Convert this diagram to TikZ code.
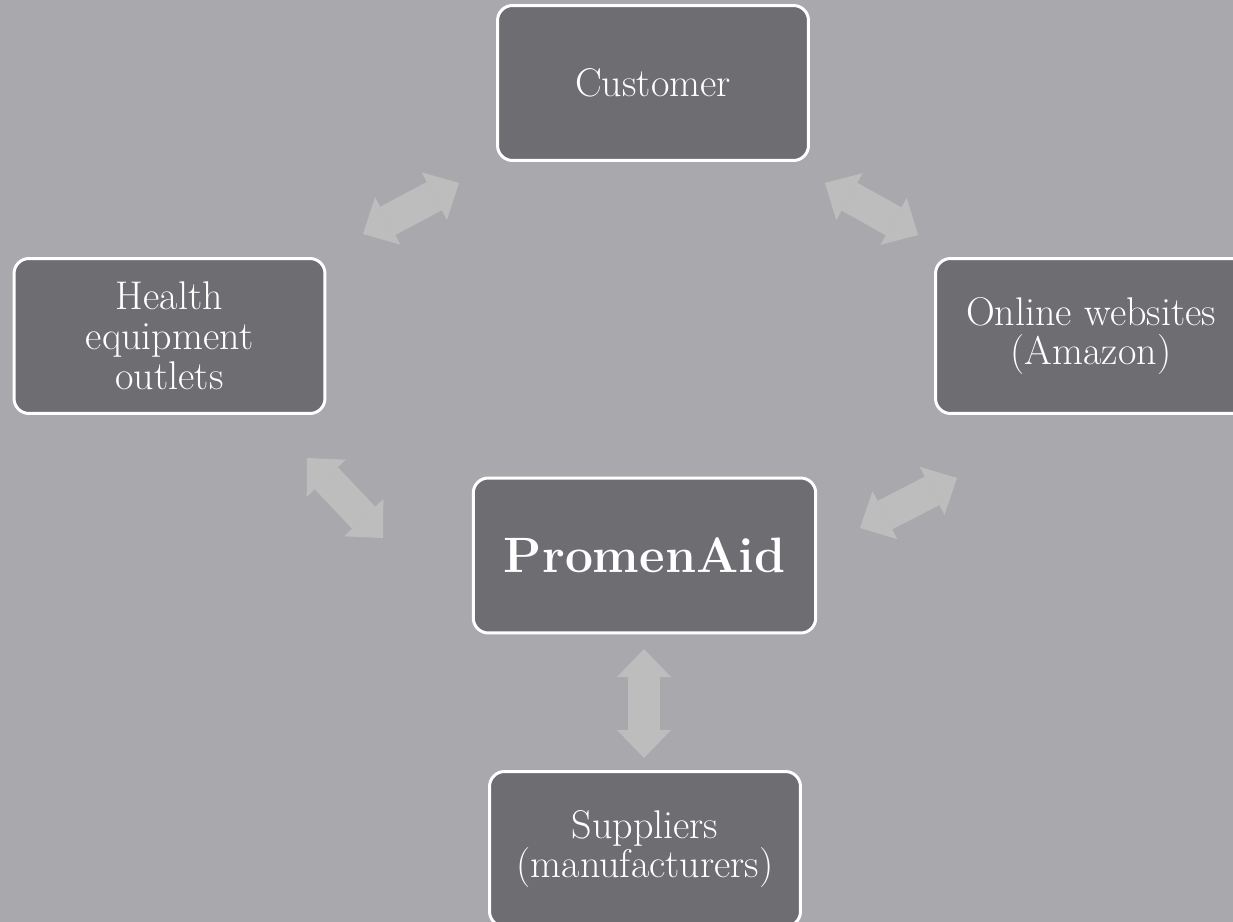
\documentclass[tikz,border=0pt]{standalone}
\usetikzlibrary{arrows.meta}
\definecolor{cBg}{HTML}{A9A8AC}
\definecolor{cBox}{HTML}{6E6D72}
\definecolor{cArrow}{HTML}{BDBDBD}
\tikzset{
  party/.style={draw=white, line width=1.7pt, fill=cBox, rounded corners=0.3cm,
    text=white, align=center, minimum width=6.22cm, minimum height=3.1cm,
    font=\fontsize{22.8}{22.7}\selectfont},
  hub/.style={party, minimum width=6.85cm, font=\fontsize{28.3}{30}\selectfont\bfseries},
  fat/.tip={Triangle[width=1.08cm,length=0.56cm,line width=0pt]},
  link/.style={cArrow, line width=0.64cm, fat-fat}
}

\begin{document}
\begin{tikzpicture}[x=0.02cm, y=-0.02cm]
    \useasboundingbox (0,0) rectangle (1233,922);
    \clip (0,0) rectangle (1233,922);
    \fill[cBg] (0,0) rectangle (1233,922);

    % --- partners round the hub -------------------------------------
    \node[party] (cust)   at (653,83)    {Customer};
    \node[party] (health) at (169.5,336) {Health\\equipment\\outlets};
    \node[party] (online) at (1091,336)  {Online websites\\(Amazon)};
    \node[hub]   (prom)   at (644.5,555.5) {PromenAid};
    \node[party] (supp)   at (645,849)   {Suppliers\\(manufacturers)};

    % --- double arrows: end points -----------------------------------
    \foreach \n/\x/\y in {hcA/363/234, hcB/459/183,
                          coA/825/183, coB/918/235,
                          hpA/307/458, hpB/383/538,
                          poA/860/528, poB/957/478,
                          psA/644/649, psB/644/758}
      \coordinate (\n) at (\x,\y);

    \foreach \a/\b in {hcA/hcB, coA/coB, hpA/hpB, poA/poB, psA/psB}
      \draw[link] (\a) -- (\b);
  \end{tikzpicture}
\end{document}
